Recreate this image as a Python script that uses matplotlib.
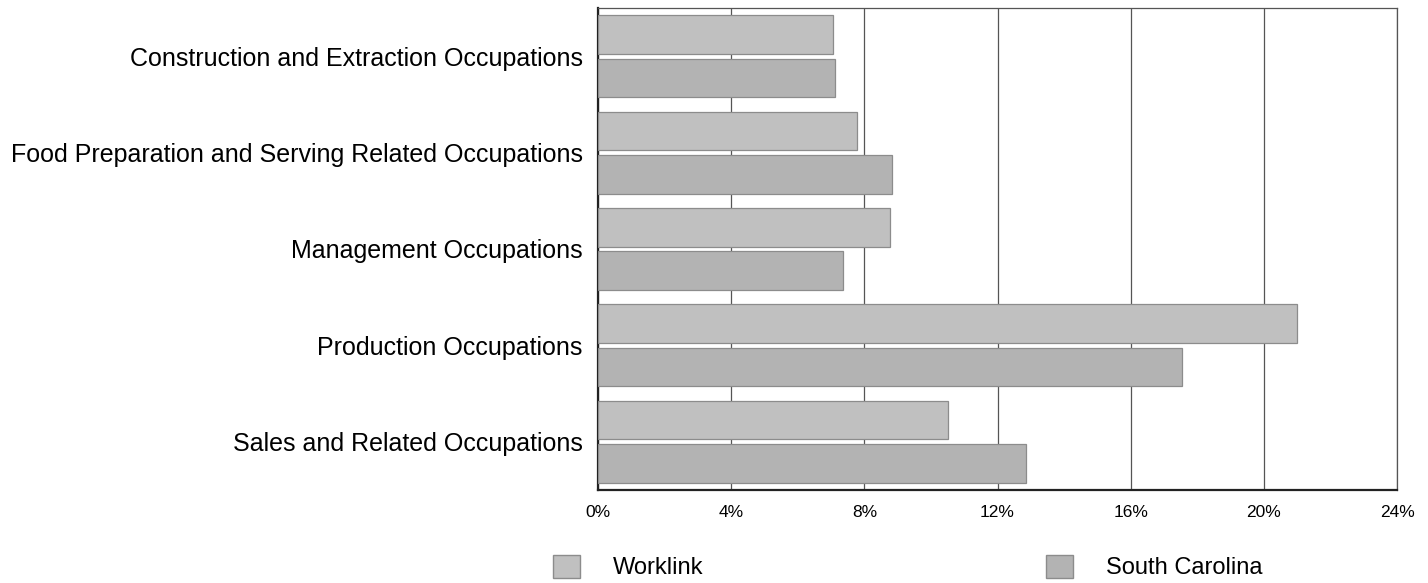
import numpy as np
import matplotlib
matplotlib.use("Agg")
import matplotlib.pyplot as plt
from matplotlib.patches import Patch

plt.rcParams['font.family'] = ['Liberation Sans', 'DejaVu Sans']

# occupations, top to bottom
categories = [
    "Construction and Extraction Occupations",
    "Food Preparation and Serving Related Occupations",
    "Management Occupations",
    "Production Occupations",
    "Sales and Related Occupations",
]
worklink = [7.06, 7.79, 8.77, 20.99, 10.5]
south_carolina = [7.11, 8.82, 7.36, 17.53, 12.85]
x_ticks = [0, 4, 8, 12, 16, 20, 24]

wl_color = "#c0c0c0"
sc_color = "#b3b3b3"
edge = "#8c8c8c"

fig = plt.figure(figsize=(14.28, 5.83), dpi=100)
ax = fig.add_axes([0.4188, 0.1595, 0.5595, 0.8268])

y = np.arange(len(categories)) + 0.5
h = 0.40
off = 0.225
ax.barh(y - off, worklink, height=h, color=wl_color, edgecolor=edge, linewidth=0.9, zorder=3)
ax.barh(y + off, south_carolina, height=h, color=sc_color, edgecolor=edge, linewidth=0.9, zorder=3)

ax.set_ylim(len(categories), 0)
ax.set_xlim(0, 24)
ax.set_yticks(y)
ax.set_yticklabels(categories, fontsize=18)
ax.set_xticks(x_ticks)
ax.set_xticklabels([f"{t}%" for t in x_ticks], fontsize=12.5)
ax.tick_params(axis="y", length=0, pad=11)
ax.tick_params(axis="x", length=0, pad=11)
ax.xaxis.grid(True, color="#555555", linewidth=0.9, zorder=0)

for s in ["left", "bottom"]:
    ax.spines[s].set_linewidth(1.6)
    ax.spines[s].set_color("#222222")
for s in ["top", "right"]:
    ax.spines[s].set_linewidth(0.9)
    ax.spines[s].set_color("#555555")

handles = [Patch(facecolor=wl_color, edgecolor=edge, label="Worklink"),
           Patch(facecolor=sc_color, edgecolor=edge, label="South Carolina")]
legend_kw = dict(loc="center left", frameon=False, fontsize=17, handlelength=1.15,
                 handleheight=1.15, handletextpad=1.4, borderpad=0, borderaxespad=0)
fig.legend(handles=[handles[0]], bbox_to_anchor=(0.3873, 0.0274), **legend_kw)
fig.legend(handles=[handles[1]], bbox_to_anchor=(0.7325, 0.0274), **legend_kw)

fig.savefig("out.png", dpi=100)
